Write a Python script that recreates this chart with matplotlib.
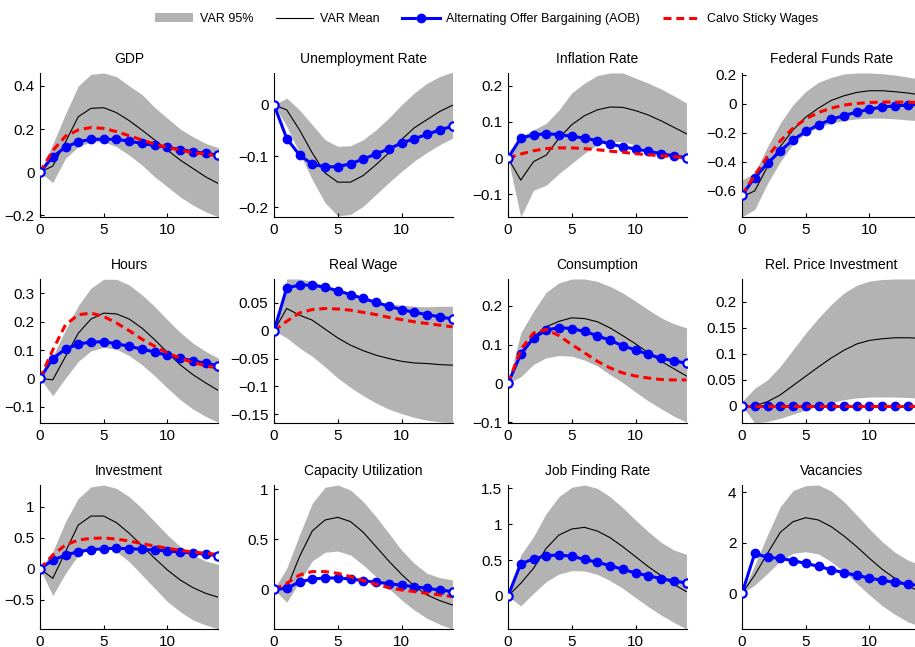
import matplotlib
matplotlib.use("Agg")
import matplotlib.pyplot as plt
from matplotlib.lines import Line2D
from matplotlib.patches import Patch
from matplotlib.ticker import FuncFormatter
import numpy as np

plt.rcParams["font.family"] = ["Liberation Sans", "DejaVu Sans"]
plt.rcParams["font.size"] = 9.5

horizon = list(range(15))

# ---- impulse responses ----
gdp_lo = [0, -0.048, 0.064, 0.118, 0.141, 0.141, 0.118, 0.079, 0.033, -0.022, -0.068, -0.115, -0.153, -0.184, -0.208]
gdp_hi = [0, 0.13, 0.27, 0.40, 0.454, 0.46, 0.443, 0.40, 0.36, 0.30, 0.25, 0.20, 0.164, 0.133, 0.113]
gdp_var = [0, 0.028, 0.14, 0.257, 0.296, 0.299, 0.276, 0.239, 0.195, 0.149, 0.102, 0.056, 0.017, -0.022, -0.053]
gdp_aob = [0, 0.071, 0.116, 0.141, 0.152, 0.153, 0.152, 0.144, 0.133, 0.124, 0.115, 0.105, 0.095, 0.087, 0.079]
gdp_calvo = [0, 0.10, 0.167, 0.196, 0.207, 0.203, 0.188, 0.169, 0.149, 0.130, 0.115, 0.102, 0.091, 0.084, 0.076]

unemp_lo = [0, -0.042, -0.094, -0.146, -0.191, -0.217, -0.214, -0.198, -0.175, -0.152, -0.130, -0.110, -0.093, -0.078, -0.065]
unemp_hi = [0, 0.013, -0.01, -0.039, -0.068, -0.081, -0.080, -0.068, -0.049, -0.026, 0.0, 0.023, 0.042, 0.055, 0.064]
unemp_var = [0, -0.01, -0.049, -0.094, -0.133, -0.151, -0.151, -0.138, -0.117, -0.094, -0.068, -0.045, -0.029, -0.013, -0.001]
unemp_aob = [0, -0.066, -0.098, -0.116, -0.121, -0.121, -0.115, -0.106, -0.096, -0.086, -0.075, -0.066, -0.058, -0.049, -0.042]

infl_lo = [0, -0.163, -0.089, -0.075, -0.043, -0.015, 0.013, 0.036, 0.045, 0.045, 0.036, 0.022, 0.011, 0.002, -0.007]
infl_hi = [0, 0.059, 0.078, 0.096, 0.133, 0.180, 0.207, 0.228, 0.235, 0.235, 0.221, 0.207, 0.191, 0.172, 0.152]
infl_var = [0, -0.061, -0.010, 0.008, 0.055, 0.092, 0.117, 0.133, 0.141, 0.140, 0.131, 0.119, 0.103, 0.085, 0.067]
infl_aob = [0, 0.055, 0.064, 0.067, 0.065, 0.060, 0.055, 0.048, 0.039, 0.031, 0.025, 0.019, 0.012, 0.006, 0.001]
infl_calvo = [0, 0.011, 0.020, 0.026, 0.028, 0.028, 0.026, 0.023, 0.019, 0.016, 0.012, 0.009, 0.006, 0.004, 0.001]

ffr_lo = [-0.78, -0.728, -0.549, -0.399, -0.277, -0.203, -0.161, -0.134, -0.115, -0.104, -0.099, -0.099, -0.104, -0.111, -0.118]
ffr_hi = [-0.526, -0.475, -0.295, -0.134, -0.007, 0.085, 0.148, 0.182, 0.205, 0.212, 0.212, 0.207, 0.198, 0.184, 0.17]
ffr_var = [-0.641, -0.60, -0.433, -0.295, -0.18, -0.092, -0.03, 0.023, 0.055, 0.078, 0.09, 0.09, 0.083, 0.074, 0.062]
ffr_aob = [-0.629, -0.509, -0.41, -0.325, -0.249, -0.191, -0.145, -0.108, -0.081, -0.058, -0.037, -0.023, -0.014, -0.009, -0.005]
ffr_calvo = [-0.629, -0.491, -0.364, -0.256, -0.168, -0.104, -0.06, -0.03, -0.009, 0.002, 0.009, 0.012, 0.012, 0.011, 0.009]

hours_lo = [0, -0.061, 0.001, 0.06, 0.097, 0.109, 0.103, 0.08, 0.048, 0.009, -0.034, -0.075, -0.108, -0.134, -0.155]
hours_hi = [0, 0.077, 0.171, 0.256, 0.318, 0.349, 0.349, 0.329, 0.294, 0.253, 0.206, 0.162, 0.124, 0.095, 0.071]
hours_var = [0, -0.005, 0.077, 0.159, 0.209, 0.23, 0.227, 0.209, 0.177, 0.136, 0.091, 0.048, 0.013, -0.016, -0.043]
hours_aob = [0, 0.07, 0.103, 0.121, 0.128, 0.129, 0.122, 0.113, 0.103, 0.093, 0.081, 0.071, 0.062, 0.053, 0.045]
hours_calvo = [0, 0.10, 0.189, 0.224, 0.23, 0.218, 0.195, 0.168, 0.138, 0.113, 0.089, 0.071, 0.056, 0.045, 0.035]

wage_lo = [0, -0.013, -0.031, -0.046, -0.065, -0.085, -0.102, -0.117, -0.13, -0.141, -0.149, -0.156, -0.161, -0.164, -0.166]
wage_hi = [0, 0.093, 0.093, 0.089, 0.081, 0.074, 0.066, 0.059, 0.053, 0.049, 0.046, 0.044, 0.043, 0.044, 0.044]
wage_var = [0, 0.04, 0.028, 0.019, 0.003, -0.013, -0.026, -0.036, -0.044, -0.05, -0.055, -0.058, -0.059, -0.061, -0.062]
wage_aob = [0, 0.077, 0.082, 0.082, 0.078, 0.072, 0.065, 0.058, 0.051, 0.044, 0.038, 0.033, 0.029, 0.025, 0.021]
wage_calvo = [0, 0.017, 0.032, 0.038, 0.040, 0.039, 0.037, 0.033, 0.029, 0.024, 0.02, 0.016, 0.013, 0.01, 0.007]

cons_lo = [0, 0.017, 0.049, 0.066, 0.072, 0.07, 0.06, 0.045, 0.023, 0.002, -0.022, -0.045, -0.065, -0.084, -0.10]
cons_hi = [0, 0.13, 0.186, 0.235, 0.259, 0.269, 0.269, 0.263, 0.25, 0.233, 0.212, 0.19, 0.169, 0.154, 0.143]
cons_var = [0, 0.079, 0.12, 0.146, 0.16, 0.169, 0.167, 0.159, 0.143, 0.123, 0.102, 0.079, 0.057, 0.038, 0.019]
cons_aob = [0, 0.075, 0.117, 0.137, 0.144, 0.141, 0.134, 0.123, 0.111, 0.097, 0.086, 0.075, 0.065, 0.058, 0.052]
cons_calvo = [0, 0.087, 0.13, 0.139, 0.123, 0.10, 0.079, 0.057, 0.04, 0.027, 0.019, 0.014, 0.01, 0.009, 0.009]

relp_lo = [0, -0.033, -0.03, -0.024, -0.016, -0.008, 0.0, 0.006, 0.012, 0.015, 0.017, 0.017, 0.017, 0.016, 0.015]
relp_hi = [0.008, 0.034, 0.05, 0.076, 0.108, 0.14, 0.169, 0.195, 0.217, 0.232, 0.24, 0.243, 0.244, 0.244, 0.244]
relp_var = [0, 0.0, 0.008, 0.021, 0.039, 0.057, 0.075, 0.092, 0.107, 0.119, 0.126, 0.129, 0.131, 0.131, 0.13]
relp_aob = [0, 0, 0, 0, 0, 0, 0, 0, 0, 0, 0, 0, 0, 0, 0]
relp_calvo = [0, 0, 0, 0, 0, 0, 0, 0, 0, 0, 0, 0, 0, 0, 0]

inv_lo = [0, -0.435, -0.075, 0.22, 0.339, 0.355, 0.274, 0.113, -0.102, -0.317, -0.532, -0.694, -0.828, -0.909, -0.973]
inv_hi = [0, 0.274, 0.758, 1.134, 1.32, 1.35, 1.296, 1.16, 0.973, 0.758, 0.543, 0.355, 0.22, 0.124, 0.07]
inv_var = [0, -0.156, 0.274, 0.704, 0.849, 0.849, 0.742, 0.57, 0.371, 0.167, -0.022, -0.183, -0.306, -0.398, -0.462]
inv_aob = [0, 0.134, 0.22, 0.274, 0.306, 0.323, 0.328, 0.323, 0.312, 0.301, 0.285, 0.269, 0.253, 0.231, 0.21]
inv_calvo = [0, 0.22, 0.382, 0.462, 0.489, 0.495, 0.478, 0.446, 0.403, 0.366, 0.328, 0.296, 0.269, 0.247, 0.231]

cu_lo = [0, -0.13, 0.077, 0.283, 0.37, 0.383, 0.343, 0.243, 0.127, 0.01, -0.107, -0.207, -0.29, -0.35, -0.397]
cu_hi = [0, 0.21, 0.543, 0.86, 1.02, 1.043, 0.993, 0.877, 0.727, 0.56, 0.393, 0.26, 0.16, 0.117, 0.093]
cu_var = [0, 0.01, 0.327, 0.583, 0.693, 0.72, 0.677, 0.57, 0.427, 0.283, 0.15, 0.033, -0.057, -0.113, -0.157]
cu_aob = [0, 0.01, 0.073, 0.103, 0.113, 0.113, 0.103, 0.087, 0.07, 0.057, 0.04, 0.027, 0.01, -0.007, -0.023]
cu_calvo = [0, 0.06, 0.143, 0.177, 0.177, 0.16, 0.127, 0.087, 0.05, 0.017, -0.007, -0.023, -0.04, -0.057, -0.073]

jfr_lo = [0, -0.139, 0.037, 0.2, 0.306, 0.353, 0.348, 0.302, 0.214, 0.107, -0.023, -0.149, -0.265, -0.367, -0.46]
jfr_hi = [0, 0.571, 0.826, 1.151, 1.384, 1.514, 1.546, 1.5, 1.384, 1.23, 1.059, 0.896, 0.748, 0.641, 0.58]
jfr_var = [0, 0.176, 0.385, 0.664, 0.85, 0.933, 0.956, 0.905, 0.813, 0.687, 0.548, 0.409, 0.283, 0.163, 0.06]
jfr_aob = [0, 0.45, 0.515, 0.562, 0.571, 0.553, 0.511, 0.469, 0.423, 0.371, 0.32, 0.283, 0.241, 0.209, 0.181]

vac_lo = [0, 0.33, 0.792, 1.28, 1.584, 1.65, 1.558, 1.254, 0.858, 0.396, -0.066, -0.488, -0.832, -1.122, -1.32]
vac_hi = [0, 1.122, 2.31, 3.432, 4.066, 4.264, 4.29, 4.052, 3.63, 3.102, 2.548, 2.046, 1.624, 1.32, 1.122]
vac_var = [0, 0.726, 1.584, 2.416, 2.838, 2.996, 2.904, 2.64, 2.27, 1.848, 1.386, 0.95, 0.594, 0.29, 0.066]
vac_aob = [0, 1.584, 1.426, 1.386, 1.294, 1.188, 1.069, 0.937, 0.818, 0.713, 0.607, 0.515, 0.436, 0.37, 0.30]

PANELS = [
    ("GDP", gdp_lo, gdp_hi, gdp_var, gdp_aob, gdp_calvo, (-0.208, 0.46), [-0.2, 0, 0.2, 0.4]),
    ("Unemployment Rate", unemp_lo, unemp_hi, unemp_var, unemp_aob, None, (-0.219, 0.062), [-0.2, -0.1, 0]),
    ("Inflation Rate", infl_lo, infl_hi, infl_var, infl_aob, infl_calvo, (-0.163, 0.235), [-0.1, 0, 0.1, 0.2]),
    ("Federal Funds Rate", ffr_lo, ffr_hi, ffr_var, ffr_aob, ffr_calvo, (-0.78, 0.212), [-0.6, -0.4, -0.2, 0, 0.2]),
    ("Hours", hours_lo, hours_hi, hours_var, hours_aob, hours_calvo, (-0.157, 0.35), [-0.1, 0, 0.1, 0.2, 0.3]),
    ("Real Wage", wage_lo, wage_hi, wage_var, wage_aob, wage_calvo, (-0.166, 0.093), [-0.15, -0.1, -0.05, 0, 0.05]),
    ("Consumption", cons_lo, cons_hi, cons_var, cons_aob, cons_calvo, (-0.102, 0.269), [-0.1, 0, 0.1, 0.2]),
    ("Rel. Price Investment", relp_lo, relp_hi, relp_var, relp_aob, relp_calvo, (-0.033, 0.244), [0, 0.05, 0.1, 0.15, 0.2]),
    ("Investment", inv_lo, inv_hi, inv_var, inv_aob, inv_calvo, (-0.973, 1.35), [-0.5, 0, 0.5, 1]),
    ("Capacity Utilization", cu_lo, cu_hi, cu_var, cu_aob, cu_calvo, (-0.397, 1.043), [0, 0.5, 1]),
    ("Job Finding Rate", jfr_lo, jfr_hi, jfr_var, jfr_aob, None, (-0.46, 1.546), [0, 0.5, 1, 1.5]),
    ("Vacancies", vac_lo, vac_hi, vac_var, vac_aob, None, (-1.41, 4.29), [0, 2, 4]),
]

GREY = "#b3b3b3"
BLUE = "#0000ff"
RED = "#ff0000"

W, H = 915, 647
fig = plt.figure(figsize=(W / 100, H / 100), dpi=100)

col_left = [40, 274, 508, 742]
row_top = [73, 279, 485]
ax_w, ax_h = 178.5, 144

fmt = FuncFormatter(lambda v, p: f"{v:g}".replace("-", "\u2212"))

for k, (title, lo, hi, var, aob, calvo, ylim, yticks) in enumerate(PANELS):
    r, c = divmod(k, 4)
    ax = fig.add_axes([col_left[c] / W, 1 - (row_top[r] + ax_h) / H, ax_w / W, ax_h / H])
    x = np.array(horizon)
    ax.fill_between(x, lo, hi, color=GREY, lw=0, zorder=1)
    ax.plot(x, var, color="k", lw=0.8, zorder=2)
    ax.plot(x, aob, color=BLUE, lw=2.2, marker="o", ms=6, mfc=BLUE, mec=BLUE,
            markevery=list(range(1, 14)), zorder=3)
    ax.plot(x[[0, -1]], np.array(aob)[[0, -1]], ls="none", marker="o", ms=6,
            mfc="white", mec=BLUE, mew=1.6, zorder=4)
    if calvo is not None:
        ax.plot(x, calvo, color=RED, lw=2.2, ls=(0, (2.6, 1.6)), zorder=3.5)
    ax.set_xlim(0, 14)
    ax.set_ylim(*ylim)
    ax.set_xticks([0, 5, 10])
    ax.set_yticks(yticks)
    ax.yaxis.set_major_formatter(fmt)
    ax.spines["top"].set_visible(False)
    ax.spines["right"].set_visible(False)
    ax.tick_params(direction="in", length=3, width=0.8, labelsize=11, pad=4)
    ax.set_title(title, fontsize=10, pad=7)
    for sp in ("left", "bottom"):
        ax.spines[sp].set_linewidth(0.8)

handles = [
    Patch(facecolor=GREY, edgecolor="none", label="VAR 95%"),
    Line2D([], [], color="k", lw=0.8, label="VAR Mean"),
    Line2D([], [], color=BLUE, lw=2.2, marker="o", ms=6, label="Alternating Offer Bargaining (AOB)"),
    Line2D([], [], color=RED, lw=2.2, ls=(0, (2.6, 1.6)), label="Calvo Sticky Wages"),
]
fig.legend(handles=handles, loc="center", bbox_to_anchor=(0.532, 1 - 19 / H), ncol=4,
           frameon=False, fontsize=9, handlelength=3.0, columnspacing=1.8, handletextpad=0.55)

fig.savefig("out.png", dpi=100)
